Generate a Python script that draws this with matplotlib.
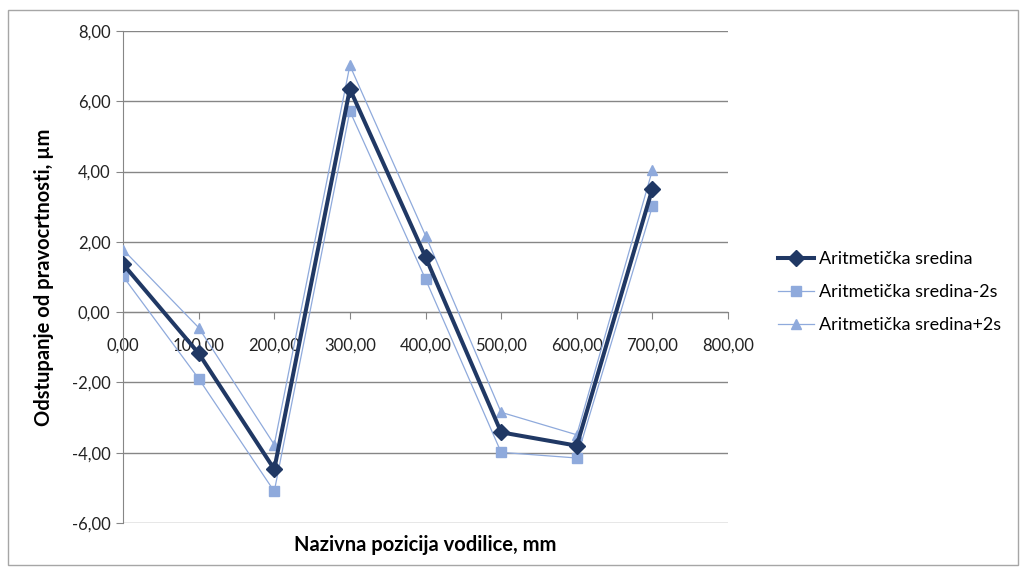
import numpy as np
import matplotlib
matplotlib.use('Agg')
import matplotlib.pyplot as plt
from matplotlib.patches import Rectangle

plt.rcParams['font.family'] = ['Lato', 'DejaVu Sans']

#data
pos = [0, 100, 200, 300, 400, 500, 600, 700]
mean = [1.37, -1.17, -4.47, 6.35, 1.57, -3.42, -3.80, 3.51]
minus2s = [1.02, -1.89, -5.10, 5.72, 0.94, -3.99, -4.15, 3.01]
plus2s = [1.78, -0.44, -3.77, 7.02, 2.18, -2.85, -3.49, 4.04]
labels = ['Aritmetička sredina', 'Aritmetička sredina-2s', 'Aritmetička sredina+2s']
xticks = np.arange(0, 801, 100)
yticks = np.arange(-6, 8.1, 2)

dark = '#203864'
light = '#8FAADC'
grid = '#868686'

fig = plt.figure(figsize=(10.27, 5.69), dpi=100)
#outer chart border
fig.patches.append(Rectangle((8/1027, 4/569), 1010/1027, 555/569, transform=fig.transFigure,
                             fill=False, edgecolor='#A6A6A6', lw=1))

ax = fig.add_axes([123/1027, 1-523/569, 605/1027, 492/569])

ax.plot(pos, mean, color=dark, lw=2.9, marker='D', ms=8, label=labels[0], zorder=4)
ax.plot(pos, minus2s, color=light, lw=0.9, marker='s', ms=6.5, label=labels[1], zorder=3)
ax.plot(pos, plus2s, color=light, lw=0.9, marker='^', ms=7, label=labels[2], zorder=3)

ax.set_xlim(0, 800)
ax.set_ylim(-6, 8)
ax.set_xticks(xticks)
ax.set_yticks(yticks)
ax.set_xticklabels([f'{v:.2f}'.replace('.', ',') for v in xticks])
ax.set_yticklabels([f'{v:.2f}'.replace('.', ',') for v in yticks])

ax.yaxis.grid(True, color=grid, lw=1)
ax.set_axisbelow(True)
for s in ['top', 'right']:
    ax.spines[s].set_visible(False)
ax.spines['left'].set_color(grid)
ax.spines['left'].set_position(('data', 0))
ax.spines['bottom'].set_position(('data', 0))
ax.spines['bottom'].set_color(grid)
ax.tick_params(axis='y', length=5, color=grid, labelsize=12, labelcolor='#222222', pad=4)
ax.tick_params(axis='x', length=5, color=grid, labelsize=12, labelcolor='#222222', pad=13)

fig.text(425/1027, 1-545/569, 'Nazivna pozicija vodilice, mm', ha='center', va='center',
         fontsize=14.5, fontweight='bold')
fig.text(44/1027, 1-277/569, 'Odstupanje od pravocrtnosti, µm', ha='center', va='center',
         rotation=90, fontsize=14.5, fontweight='bold')

ax.legend(loc='center left', bbox_to_anchor=(778/1027, 1-292/569), bbox_transform=fig.transFigure,
          frameon=False, fontsize=13, handlelength=2.0, handletextpad=0.25, labelspacing=0.95,
          borderpad=0, borderaxespad=0)

fig.savefig('out.png', dpi=100)
